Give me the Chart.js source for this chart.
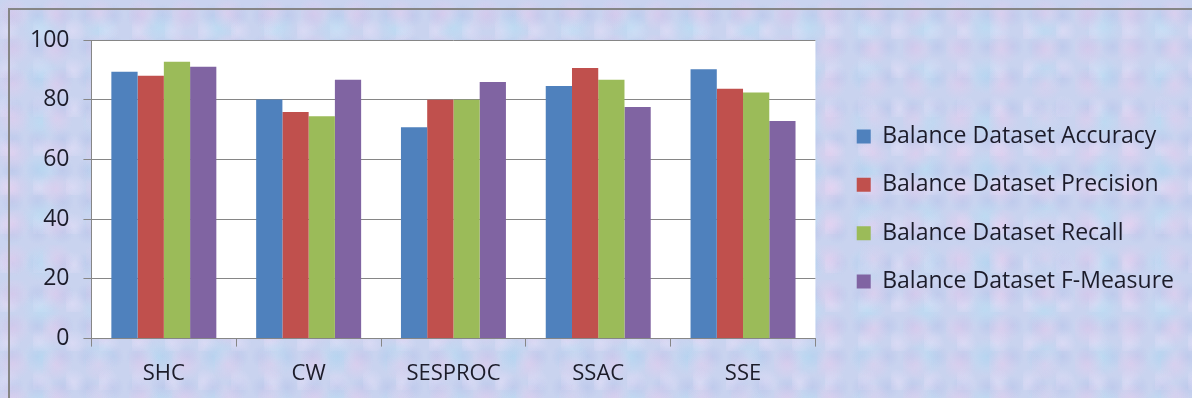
<!DOCTYPE html>
<html>
<head>
<meta charset="utf-8">
<script src="https://cdn.jsdelivr.net/npm/chart.js@4/dist/chart.umd.min.js"></script>
<style>
  html,body{margin:0;padding:0;width:1192px;height:398px;overflow:hidden;}
  body{
    background:
      radial-gradient(circle at 30% 40%, rgba(242,200,236,.38) 0, rgba(242,200,236,0) 17px) 0 0/43px 35px,
      radial-gradient(circle at 70% 60%, rgba(172,228,246,.40) 0, rgba(172,228,246,0) 19px) 0 0/59px 47px,
      radial-gradient(circle at 50% 50%, rgba(160,176,226,.25) 0, rgba(160,176,226,0) 12px) 0 0/25px 31px,
      radial-gradient(circle at 20% 80%, rgba(236,226,250,.45) 0, rgba(236,226,250,0) 14px) 0 0/33px 39px,
      #c9d3ef;
  }
  #frame{position:absolute;left:8px;top:8px;width:1200px;height:400px;
    border-left:2px solid #858585;border-top:2px solid #858585;}
  #wrap{position:absolute;left:0;top:0;width:1192px;height:398px;}
</style>
</head>
<body>
<div id="frame"></div>
<div id="wrap"><canvas id="c" width="1192" height="398"></canvas></div>
<script>
// 데이터
const categories=['SHC','CW','SESPROC','SSAC','SSE'];
const accuracy =[89.4,80.1,70.8,84.6,90.2];
const precision=[88.0,75.9,80.0,90.6,83.7];
const recall   =[92.7,74.5,80.0,86.7,82.4];
const fmeasure =[91.0,86.7,85.9,77.6,72.9];
const yTicks=[0,20,40,60,80,100];

const FONT='"Open Sans", sans-serif';
const INK='#1c1c2a';
const GRID='#868686';

// 플롯 영역 흰 배경
const plotBg={
  id:'plotBg',
  beforeDraw(chart){
    const {ctx,chartArea:a}=chart;
    ctx.save(); ctx.fillStyle='#ffffff';
    ctx.fillRect(a.left,a.top,a.right-a.left,a.bottom-a.top);
    ctx.restore();
  }
};
// 범례 위치 미세 조정
const legendShift={
  id:'legendShift',
  afterLayout(chart){
    const lg=chart.legend;
    lg.left+=16; lg.right+=16;
    lg.top-=11.5; lg.bottom-=11.5;
  }
};

const mk=(label,data,color)=>({label,data,backgroundColor:color,borderWidth:0});

new Chart(document.getElementById('c'),{
  type:'bar',
  data:{labels:categories,datasets:[
    mk('Balance Dataset Accuracy',accuracy,'#4f81bd'),
    mk('Balance Dataset Precision',precision,'#c0504d'),
    mk('Balance Dataset Recall',recall,'#9bbb59'),
    mk('Balance Dataset F-Measure',fmeasure,'#8064a2'),
  ]},
  options:{
    responsive:false,animation:false,
    layout:{padding:{left:16,top:40,bottom:-3,right:24}},
    datasets:{bar:{categoryPercentage:0.725,barPercentage:1}},
    plugins:{
      tooltip:{enabled:false},
      legend:{position:'right',align:'center',maxWidth:420,
        labels:{boxWidth:14,boxHeight:14,padding:25.3,color:INK,
          font:{family:FONT,size:23}}},
    },
    scales:{
      x:{
        grid:{display:true,offset:true,drawOnChartArea:false,color:GRID,tickLength:8},
        border:{color:GRID,width:1},
        ticks:{color:INK,padding:14,font:{family:FONT,size:22}},
      },
      y:{
        min:0,max:100,
        afterBuildTicks(s){ s.ticks=yTicks.map(v=>({value:v})); },
        grid:{color:GRID,tickLength:8},
        border:{color:GRID,width:1},
        ticks:{color:INK,padding:14,font:{family:FONT,size:23}},
      }
    }
  },
  plugins:[plotBg,legendShift]
});
</script>
</body>
</html>
